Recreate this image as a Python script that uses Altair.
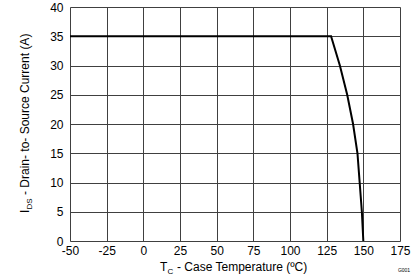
import altair as alt
import pandas as pd

temps = [-50, 128, 134, 139, 143, 146, 147.5, 149, 150]
currents = [35, 35, 30, 25, 20, 15, 10, 5, 0]
x_ticks = [-50, -25, 0, 25, 50, 75, 100, 125, 150, 175]
y_ticks = [0, 5, 10, 15, 20, 25, 30, 35, 40]

df = pd.DataFrame({"t": temps, "i": currents})

FONT = "Liberation Sans"
W, H = 330, 234

line = alt.Chart(df).mark_line(color="black", strokeWidth=2).encode(
    x=alt.X("t:Q", scale=alt.Scale(domain=[-50, 175], nice=False),
            axis=alt.Axis(values=x_ticks, title=None, grid=True, gridColor="#404040",
                          gridWidth=1, gridOpacity=1, ticks=False, domain=False,
                          labelFont=FONT, labelFontSize=12, labelColor="black",
                          labelPadding=4, labelFlush=False,
                          labelExpr="'' + datum.value")),
    y=alt.Y("i:Q", scale=alt.Scale(domain=[0, 40], nice=False),
            axis=alt.Axis(values=y_ticks, title=None, grid=True, gridColor="#404040",
                          gridWidth=1, gridOpacity=1, ticks=False, domain=False,
                          labelFont=FONT, labelFontSize=12, labelColor="black",
                          labelPadding=7, labelFlush=False)),
)

def txt(s, x, y, size=12, angle=0, align="left", baseline="alphabetic"):
    return alt.Chart(pd.DataFrame({"s": [s]})).mark_text(
        font=FONT, fontSize=size, angle=angle, align=align, baseline=baseline, color="black"
    ).encode(text="s:N", x=alt.value(x), y=alt.value(y))

# x title pieces
xt1 = txt("T", 90, 264)
xt2 = txt("C", 97.5, 267, size=8)
xt3 = txt("- Case Temperature (ºC)", 107, 264)

# y title pieces (rotated, reading upward)
yt1 = txt("I", -41, 206, angle=270)
yt2 = txt("DS", -38, 202.5, size=8, angle=270)
yt3 = txt("- Drain- to- Source Current (A)", -41, 188, angle=270)

g = txt("G001", 334, 265, size=5, align="center")

chart = alt.layer(line, xt1, xt2, xt3, yt1, yt2, yt3, g).properties(
    width=W, height=H,
    autosize=alt.AutoSizeParams(type="none"),
    padding={"left": 70, "top": 7, "right": 19, "bottom": 38},
).configure_view(stroke="black", strokeWidth=1.5).configure(background="white")

chart.save("out.html", embed_options={"renderer": "svg", "actions": False})
